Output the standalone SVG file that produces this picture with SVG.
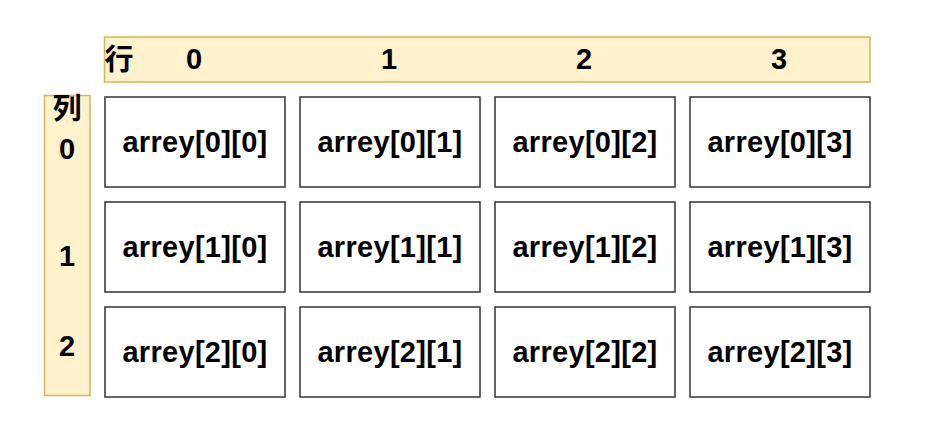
<svg xmlns="http://www.w3.org/2000/svg" width="928" height="446" viewBox="0 0 928 446">
<style>
.hdr{fill:#fff2cc;stroke:#d6b656;stroke-width:1.5}
.cell{fill:#ffffff;stroke:#333333;stroke-width:1.5}
.t{font-family:"Liberation Sans","Noto Sans CJK SC",Arial,sans-serif;font-weight:bold;font-size:29px;fill:#000000;text-anchor:middle}
.c{letter-spacing:0.3px}
</style>
<rect width="928" height="446" fill="#ffffff"/>
<g id="row-header">
<rect class="hdr" x="104.5" y="37" width="765.5" height="45"/>
<text class="t" x="119" y="70">行</text>
<text class="t" x="194" y="69">0</text>
<text class="t" x="389" y="69">1</text>
<text class="t" x="584" y="69">2</text>
<text class="t" x="779" y="69">3</text>
</g>
<g id="col-header">
<rect class="hdr" x="44.5" y="95.5" width="45.5" height="300"/>
<text class="t" x="67" y="119">列</text>
<text class="t" x="67" y="159">0</text>
<text class="t" x="67" y="266">1</text>
<text class="t" x="67" y="356">2</text>
</g>
<g id="cells">
<g id="c00"><rect class="cell" x="105" y="97" width="180" height="90"/><text class="t c" x="195" y="152">arrey[0][0]</text></g>
<g id="c01"><rect class="cell" x="300" y="97" width="180" height="90"/><text class="t c" x="390" y="152">arrey[0][1]</text></g>
<g id="c02"><rect class="cell" x="495" y="97" width="180" height="90"/><text class="t c" x="585" y="152">arrey[0][2]</text></g>
<g id="c03"><rect class="cell" x="690" y="97" width="180" height="90"/><text class="t c" x="780" y="152">arrey[0][3]</text></g>
<g id="c10"><rect class="cell" x="105" y="202" width="180" height="90"/><text class="t c" x="195" y="257">arrey[1][0]</text></g>
<g id="c11"><rect class="cell" x="300" y="202" width="180" height="90"/><text class="t c" x="390" y="257">arrey[1][1]</text></g>
<g id="c12"><rect class="cell" x="495" y="202" width="180" height="90"/><text class="t c" x="585" y="257">arrey[1][2]</text></g>
<g id="c13"><rect class="cell" x="690" y="202" width="180" height="90"/><text class="t c" x="780" y="257">arrey[1][3]</text></g>
<g id="c20"><rect class="cell" x="105" y="307" width="180" height="90"/><text class="t c" x="195" y="362">arrey[2][0]</text></g>
<g id="c21"><rect class="cell" x="300" y="307" width="180" height="90"/><text class="t c" x="390" y="362">arrey[2][1]</text></g>
<g id="c22"><rect class="cell" x="495" y="307" width="180" height="90"/><text class="t c" x="585" y="362">arrey[2][2]</text></g>
<g id="c23"><rect class="cell" x="690" y="307" width="180" height="90"/><text class="t c" x="780" y="362">arrey[2][3]</text></g>
</g>
<g id="connectors"/>
</svg>
